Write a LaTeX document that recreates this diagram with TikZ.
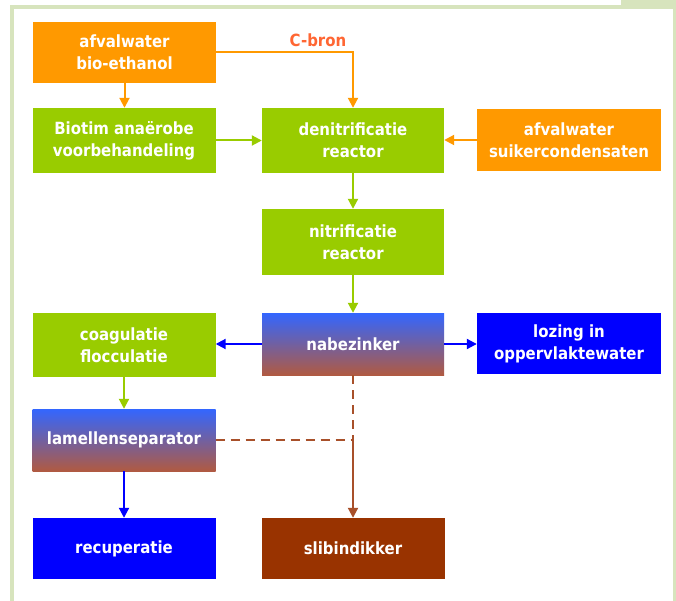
\documentclass[tikz,border=0pt]{standalone}
\usepackage{fontspec}
\setmainfont{DejaVu Sans}
\newfontfamily\boxfont{DejaVu Sans}[FakeStretch=0.89]
\usetikzlibrary{arrows.meta}
\definecolor{framegreen}{HTML}{D7E4BD}
\definecolor{orng}{HTML}{FF9900}
\definecolor{grn}{HTML}{99CC00}
\definecolor{blu}{HTML}{0000FF}
\definecolor{brwn}{HTML}{993300}
\definecolor{brline}{HTML}{A8502A}
\definecolor{cbron}{HTML}{FF6633}
\definecolor{gradtop}{HTML}{3366FF}
\definecolor{gradbot}{HTML}{B05A42}
\tikzset{
  box/.style={rectangle, inner sep=0pt, minimum width=183pt, minimum height=62pt,
    align=center, text=white, font=\boxfont\fontsize{16.8}{22}\selectfont\bfseries},
  orangebox/.style={box, fill=orng},
  greenbox/.style={box, fill=grn},
  bluebox/.style={box, fill=blu},
  brownbox/.style={box, fill=brwn},
  gradbox/.style={box, top color=gradtop, bottom color=gradbot},
  conn/.style={line width=2pt, -{Triangle[length=10pt,width=10pt]}},
  dashconn/.style={line width=2pt, color=brline, dash pattern=on 9pt off 6pt},
}
\begin{document}
\begin{tikzpicture}[x=1pt,y=-1pt]
\useasboundingbox (0,0) rectangle (676,601);
\fill[white] (0,0) rectangle (676,601);
% frame
\fill[framegreen] (621,0) rectangle (676,9);
\fill[framegreen] (10,5) rectangle (676,9);
\fill[framegreen] (10,5) rectangle (14,601);
\fill[framegreen] (673,5) rectangle (676,601);

% nodes
\node[orangebox, minimum height=61pt] (bio) at (124.5,52.5) {afvalwater\\bio-ethanol};
\node[greenbox, minimum height=65pt] (biotim) at (124,140.5) {Biotim anaërobe\\voorbehandeling};
\node[greenbox, minimum width=182pt, minimum height=65pt] (denit) at (353,140.5) {denitrificatie\\reactor};
\node[orangebox, minimum width=184pt] (suiker) at (569,140) {afvalwater\\suikercondensaten};
\node[greenbox, minimum width=182pt, minimum height=66pt] (nitri) at (353,242) {nitrificatie\\reactor};
\node[greenbox, minimum height=64pt] (coag) at (124,345) {coagulatie\\flocculatie};
\node[gradbox, minimum width=182pt] (nabez) at (353,344) {nabezinker};
\node[bluebox, minimum width=184pt, minimum height=61pt] (lozing) at (569,343.5) {lozing in\\oppervlaktewater};
\node[gradbox] (lamel) at (124,440) {lamellenseparator};
\node[bluebox, minimum height=61pt] (recup) at (124,548.5) {recuperatie};
\node[brownbox, minimum height=61pt] (slib) at (353,548.5) {slibindikker};
\node[text=cbron, font=\boxfont\fontsize{16.8}{18}\selectfont\bfseries] (cb) at (318,40) {C-bron};
\coordinate (j) at (353,440);

% connectors
\draw[conn, orng] (bio.south) -- (bio.south |- biotim.north);
\draw[conn, orng] (bio.east) -| (denit.north);
\draw[conn, grn] (biotim.east) -- (biotim.east -| denit.west);
\draw[conn, orng] (suiker.west) -- (suiker.west -| denit.east);
\draw[conn, grn] (denit.south) -- (nitri.north);
\draw[conn, grn] (nitri.south) -- (nabez.north);
\draw[conn, blu] (nabez.west) -- (nabez.west -| coag.east);
\draw[conn, blu] (nabez.east) -- (nabez.east -| lozing.west);
\draw[conn, grn] (coag.south) -- (coag.south |- lamel.north);
\draw[conn, blu] (lamel.south) -- (recup.north);
\draw[dashconn] (nabez.south) -- (j);
\draw[dashconn] (lamel.east) -- (j);
\draw[conn, brline] (j) -- (slib.north);
\end{tikzpicture}
\end{document}
